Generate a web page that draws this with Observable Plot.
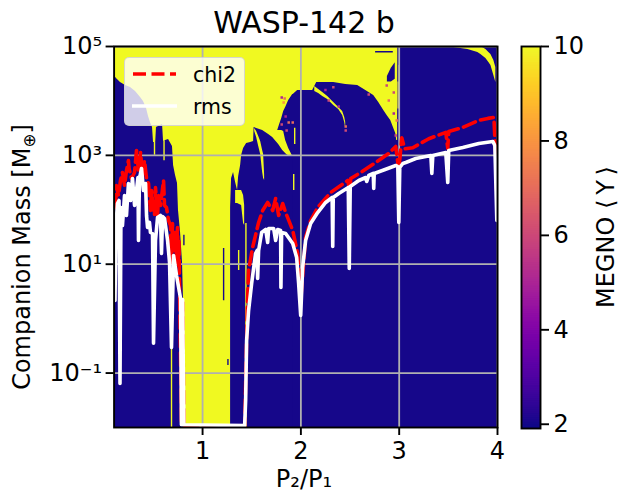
<!DOCTYPE html>
<html>
<head>
<meta charset="utf-8">
<script src="https://cdn.jsdelivr.net/npm/d3@7"></script>
<script src="https://cdn.jsdelivr.net/npm/@observablehq/plot@0.6"></script>
<style>
html,body{margin:0;padding:0;background:#fff;}
#root{position:relative;width:621px;height:496px;overflow:hidden;font-family:"DejaVu Sans",sans-serif;color:#000;}
#root>svg,#root>div{position:absolute;}
.t{white-space:nowrap;line-height:1.2;}
sub{font-size:70%;line-height:0;}
</style>
</head>
<body>
<div id="root"></div>
<script>
// X = period ratio P2/P1, *Log = log10 of companion mass.
const xTicks = [1, 2, 3, 4];
const yTickExp = [-1, 1, 3, 5];
const yTickText = ["10⁻¹", "10¹", "10³", "10⁵"];
const megnoTicks = [2, 4, 6, 8, 10];
const floorLog = -2;

const leftLobeX = [0.10,0.124,0.165,0.216,0.267,0.318,0.369,0.399,0.430,0.450,0.470,0.491,0.501,0.521,0.531,0.572,0.593,0.603,0.623,0.654,0.694,0.705,0.725,0.745,0.755,0.776,0.796,0.806,0.822];
const leftLobeLog = [4.467,4.412,4.339,4.284,4.247,4.173,4.063,3.990,3.861,3.714,3.604,3.512,3.236,3.236,3.512,3.549,3.567,3.254,3.272,3.291,3.163,2.814,2.630,2.483,1.987,1.583,1.032,0.333,-2];

const midLobeX = [1.285,1.295,1.315,1.336,1.356,1.367,1.387,1.397,1.417,1.448,1.489,1.519,1.524,1.611,1.672,1.713,1.774,1.815,1.855,1.886,1.95];
const midLobeLog = [2.042,2.575,2.685,2.501,2.354,2.612,2.814,2.998,3.127,3.219,3.236,3.254,3.512,3.457,3.384,3.329,3.200,3.090,3.017,2.980,2.980];

const rightX = [1.764,1.784,1.805,1.825,1.845,1.876,1.917,1.922,1.967,2.048,2.120,2.161,2.334,2.456,2.578,2.660,2.741,2.792,2.843,2.884,2.914,2.945,2.965,2.975,2.984,2.986,4.0];
const rightTopLog = [3.457,3.567,3.677,3.805,3.878,4.008,4.118,4.118,4.192,4.192,4.192,4.339,4.339,4.302,4.284,4.192,4.100,3.971,3.824,3.714,3.641,3.493,3.402,3.273,3.273,5,5];
const rightLowLog = [3.457,3.457,3.457,3.439,3.272,3.126,2.98,-2,-2,-2,-2,-2,-2,-2,-2,-2,-2,-2,-2,-2,-2,-2,-2,-2,-2,-2,-2];

// Yellow unstable strips lying over the stable region.
const crescentX = [1.530,1.550,1.571,1.591,1.611,1.621,1.631];
const crescentHi = [3.493,3.438,3.347,3.254,3.090,3.016,2.649];
const crescentLo = [3.438,3.328,3.163,3.016,2.685,2.575,2.538];
const arcX = [2.141,2.181,2.222,2.273,2.334,2.385,2.425,2.446,2.456];
const arcHi = [4.265,4.210,4.155,4.081,3.971,3.879,3.805,3.695,3.603];
const arcLo = [4.173,4.136,4.081,4.027,3.916,3.842,3.731,3.603,3.493];
const cornerX = [3.556,3.699,3.800,3.831,3.882,3.912,3.933,3.963,3.983];
const cornerHi = [5,5,5,5,4.945,4.890,4.853,4.744,4.614];
const cornerLo = [4.982,4.945,4.890,4.853,4.780,4.706,4.651,4.467,4.339];
const fingerX = [1.336,1.356,1.397,1.417,1.428];
const fingerHi = [2.354,2.354,2.354,2.262,2.08];
const fingerLo = [2.115,2.115,2.08,1.748,1.711];

// Stable patches inside the yellow wedge near P2/P1 = 3.
const wedgePatchX = [2.88,2.92,2.96];
const wedgePatchHi = [4.45,4.60,4.70];
const wedgePatchLo = [4.35,4.35,4.40];
const wedgeStubX = [2.76,2.94];
const wedgeStubHi = [4.91,4.91];
const wedgeStubLo = [4.88,4.88];

// Thin vertical features
const yellowThinX = [0.684,1.441,0.511,0.608,1.367,1.927,1.937,2.990,3.000];
const yellowThinLo = [-2,-2,3.0,2.9,0.885,2.354,3.2,3.85,4.3];
const yellowThinHi = [-0.53,1.748,3.512,3.27,1.252,2.648,3.5,4.35,4.65];
const navyThinX = [1.214,0.81,1.258];
const navyThinLo = [0.33,1.34,-0.86];
const navyThinHi = [1.29,1.53,-0.75];

const speckX = [2.456,2.456,2.945,2.873,2.894,2.945,2.975,2.965,2.385,2.283,2.690,1.835,1.805,1.825,1.845,1.876,1.855,1.805,1.917,2.250,2.330];
const speckLog = [3.457,3.531,4.155,4.284,4.008,3.769,3.641,3.365,3.898,4.008,4.118,4.045,4.063,3.971,3.714,3.604,3.457,3.567,3.604,4.20,4.25];
const speckMegno = [6,7,6,6,7,5,7,6,5,6,6,7,5,8,5,7,6,6,7,5,6];

const chi2X = [0.114,0.124,0.145,0.165,0.185,0.206,0.226,0.246,0.252,0.277,0.308,0.328,0.348,0.369,0.389,0.409,0.430,0.450,0.470,0.481,0.511,0.521,0.542,0.552,0.572,0.603,0.613,0.633,0.654,0.674,0.684,0.694,0.705,0.725,0.735,0.745,0.755,0.760,0.766,0.785,0.797,0.810,1.428,1.448,1.458,1.468,1.509,1.570,1.611,1.662,1.713,1.743,1.774,1.815,1.845,1.917,1.967,1.998,2.028,2.048,2.099,2.171,2.303,2.477,2.497,2.507,2.609,2.761,2.894,2.965,2.996,3.026,3.057,3.138,3.301,3.474,3.494,3.504,3.647,3.810,3.902,3.963,3.983,3.993];
const chi2Log = [2.042,2.446,2.262,2.538,2.685,2.446,2.722,2.906,2.759,2.575,2.685,3.090,2.722,3.052,2.630,2.906,2.575,2.483,1.987,2.354,1.895,2.409,1.895,2.262,2.079,2.538,2.079,2.042,1.803,1.711,1.032,1.748,1.252,1.583,1.032,1.675,0.977,1.436,0.517,-1.9,0.3,-1.986,-1.986,-0.402,0.333,0.885,1.307,1.766,1.987,2.134,1.987,2.207,1.895,2.115,1.950,1.620,1.197,0.333,1.013,1.491,1.803,2.042,2.318,2.538,2.354,2.575,2.685,2.869,3.035,3.164,2.722,3.322,3.120,3.140,3.306,3.422,3.129,3.440,3.513,3.642,3.679,3.697,2.962,2.173];

const rmsX = [0.109,0.119,0.134,0.150,0.160,0.170,0.185,0.206,0.226,0.246,0.267,0.287,0.308,0.318,0.343,0.348,0.358,0.379,0.399,0.420,0.430,0.440,0.460,0.470,0.491,0.501,0.521,0.542,0.572,0.582,0.593,0.613,0.644,0.664,0.684,0.705,0.735,0.776,0.785,0.797,0.810,1.428,1.438,1.448,1.468,1.499,1.539,1.555,1.560,1.570,1.601,1.642,1.662,1.672,1.723,1.743,1.764,1.794,1.797,1.804,1.845,1.917,1.957,1.977,1.998,2.018,2.048,2.099,2.171,2.252,2.318,2.324,2.329,2.385,2.482,2.492,2.502,2.589,2.660,2.670,2.690,2.736,2.741,2.746,2.884,2.965,2.986,2.996,3.006,3.037,3.067,3.169,3.322,3.332,3.342,3.474,3.494,3.504,3.647,3.810,3.953,3.973,3.993];
const rmsLog = [0.333,1.711,2.115,2.171,-1.191,2.042,1.711,2.262,1.895,2.483,2.171,2.575,2.079,2.207,2.593,1.436,2.575,2.759,2.354,2.483,1.895,1.675,1.767,1.583,1.564,-0.453,1.436,1.858,1.895,1.197,1.876,1.840,1.436,1.032,-0.530,1.160,0.793,0.370,-1.95,0.352,-1.95,-1.963,-1.502,-0.402,0.150,0.646,1.197,1.252,0.738,1.252,1.583,1.638,1.399,1.656,1.656,1.436,1.638,1.620,0.572,1.583,1.564,1.381,1.123,0.646,0.058,0.940,1.436,1.748,1.950,2.134,2.226,1.326,2.226,2.299,2.410,0.921,2.428,2.538,2.593,2.520,2.630,2.667,2.391,2.667,2.759,2.814,2.795,1.767,2.777,2.850,2.869,2.942,2.997,2.667,2.997,3.052,2.501,3.089,3.144,3.218,3.255,3.182,1.803];

// Build tables for the library
const m = v => Math.pow(10, v);
const band = (xs, hi, lo) => xs.map((x, i) => ({x, hi: m(hi[i]), lo: m(Array.isArray(lo) ? lo[i] : lo)}));
const curve = (xs, ys) => xs.map((x, i) => ({x, y: m(ys[i])}));

const plasma = d3.scaleSequential(d3.interpolatePlasma).domain([1.9, 10]);
const YELLOW = plasma(10), NAVY = plasma(2);
const FS = 24;

const area = (rows, fill) => Plot.area(rows, {x1: "x", y1: "lo", y2: "hi", fill, clip: "frame"});
const thin = (xs, lo, hi, stroke) => Plot.ruleX(xs.map((x, i) => ({x, lo: m(lo[i]), hi: m(hi[i])})), {x: "x", y1: "lo", y2: "hi", stroke, strokeWidth: 1.4, clip: "frame"});

const main = Plot.plot({
  width: 621, height: 496,
  marginLeft: 113.6, marginRight: 124, marginTop: 46, marginBottom: 69,
  style: {fontFamily: '"DejaVu Sans",sans-serif', background: "transparent"},
  x: {domain: [0.1, 4], label: null},
  y: {type: "log", domain: [m(floorLog), m(5)], label: null},
  marks: [
    Plot.frame({fill: YELLOW, stroke: null}),
    area(band(leftLobeX, leftLobeLog, floorLog), NAVY),
    area(band(midLobeX, midLobeLog, floorLog), NAVY),
    area(band(rightX, rightTopLog, rightLowLog), NAVY),
    area(band(wedgePatchX, wedgePatchHi, wedgePatchLo), NAVY),
    area(band(wedgeStubX, wedgeStubHi, wedgeStubLo), NAVY),
    area(band(crescentX, crescentHi, crescentLo), YELLOW),
    area(band(arcX, arcHi, arcLo), YELLOW),
    area(band(cornerX, cornerHi, cornerLo), YELLOW),
    area(band(fingerX, fingerHi, fingerLo), YELLOW),
    thin(yellowThinX, yellowThinLo, yellowThinHi, YELLOW),
    thin(navyThinX, navyThinLo, navyThinHi, NAVY),
    Plot.dot(speckX.map((x, i) => ({x, y: m(speckLog[i]), c: plasma(speckMegno[i])})), {x: "x", y: "y", fill: d => d.c, r: 1.4, symbol: "square", clip: "frame"}),
    Plot.gridX(xTicks, {stroke: "#b0b0b0", strokeOpacity: 1, strokeWidth: 1.8}),
    Plot.gridY(yTickExp.map(m), {stroke: "#b0b0b0", strokeOpacity: 1, strokeWidth: 1.8}),
    Plot.line(curve(chi2X, chi2Log), {x: "x", y: "y", stroke: "#ff0000", strokeWidth: 3.6, strokeDasharray: "13,5.5", strokeLinejoin: "round", clip: "frame"}),
    Plot.line(curve(rmsX, rmsLog), {x: "x", y: "y", stroke: "#ffffff", strokeWidth: 3.6, strokeLinejoin: "round", clip: "frame"}),
    Plot.frame({stroke: "#000", strokeWidth: 1.9}),
    Plot.axisX(xTicks, {anchor: "bottom", tickSize: 8, strokeWidth: 1.9, stroke: "#000", fontSize: FS, tickPadding: 6, label: null, tickFormat: d => String(d)}),
    Plot.axisY(yTickExp.map(m), {anchor: "left", tickSize: 8, strokeWidth: 1.9, stroke: "#000", fontSize: FS, tickPadding: 4, label: null,
      tickFormat: d => yTickText[yTickExp.indexOf(Math.round(Math.log10(d)))]})
  ]
});
main.style.left = "0"; main.style.top = "0";

const barRows = d3.range(1.9, 10.0, 0.04);
const bar = Plot.plot({
  width: 121, height: 496,
  marginLeft: 21, marginRight: 81, marginTop: 46, marginBottom: 68,
  style: {fontFamily: '"DejaVu Sans",sans-serif', background: "transparent"},
  x: {domain: [0, 1], axis: null},
  y: {domain: [1.91, 10], label: null},
  color: {domain: [1.9, 10], scheme: "plasma"},
  marks: [
    Plot.rect(barRows, {x1: 0, x2: 1, y1: d => d, y2: d => Math.min(10, d + 0.08), fill: d => d}),
    Plot.frame({stroke: "#000", strokeWidth: 1.9}),
    Plot.axisY(megnoTicks, {anchor: "right", tickSize: 8, strokeWidth: 1.9, stroke: "#000", fontSize: FS, tickPadding: 5, label: null, tickFormat: d => String(d)})
  ]
});
bar.style.left = "500px"; bar.style.top = "0";

const root = document.getElementById("root");
root.append(main, bar);

function label(html, css) {
  const d = document.createElement("div");
  d.className = "t";
  d.innerHTML = html;
  d.style.cssText += css;
  root.append(d);
}
label("WASP-142 b", "left:304px;top:5px;font-size:30px;transform:translateX(-50%);");
label("P₂/P₁", "left:304px;top:465px;font-size:24px;transform:translateX(-50%);");
label("Companion Mass [M<sub>⊕</sub>]", "left:22px;top:257px;font-size:24px;transform:translate(-50%,-50%) rotate(-90deg);");
label("MEGNO ⟨\u2009Y\u2009⟩", "left:606px;top:236.5px;font-size:24px;transform:translate(-50%,-50%) rotate(-90deg);");

// Legend
const legend = document.createElement("div");
legend.style.cssText = "left:124px;top:57px;width:121px;height:69px;box-sizing:border-box;background:rgba(255,255,255,.8);border:1.5px solid rgba(204,204,204,.8);border-radius:5px;";
legend.innerHTML = `<svg width="121" height="69" style="position:absolute;left:-1.5px;top:-1.5px;font-family:'DejaVu Sans',sans-serif;font-size:20.5px">
<line x1="9" x2="52" y1="17" y2="17" stroke="#f00" stroke-width="3.6" stroke-dasharray="13,5.5"/>
<text x="69" y="24.5">chi2</text>
<line x1="8" x2="53" y1="49" y2="49" stroke="#fff" stroke-width="3.6"/>
<text x="69" y="56.5">rms</text></svg>`;
root.append(legend);
</script>
</body>
</html>
